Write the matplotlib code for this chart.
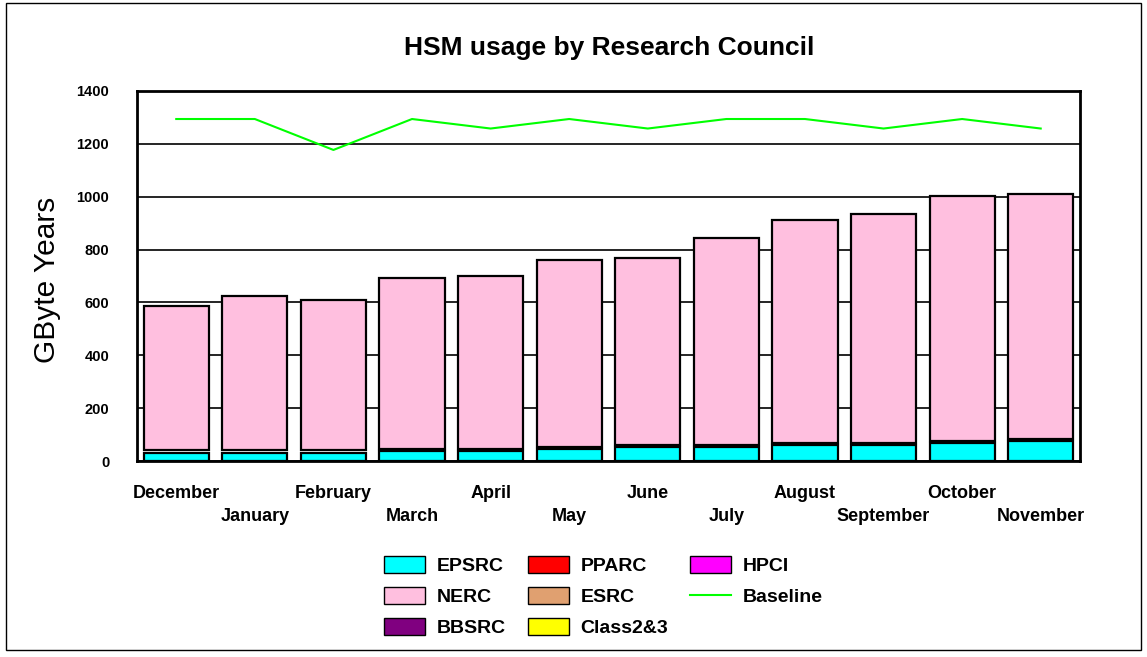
import matplotlib
matplotlib.use('Agg')
import matplotlib.pyplot as plt
from matplotlib.patches import Patch, Rectangle
from matplotlib.lines import Line2D
import numpy as np

plt.rcParams['font.family'] = ['Liberation Sans', 'DejaVu Sans']

months = ['December', 'January', 'February', 'March', 'April', 'May',
          'June', 'July', 'August', 'September', 'October', 'November']
epsrc = [32, 32, 32, 38, 38, 45, 53, 53, 60, 60, 68, 76]
totals = [586, 624, 609, 692, 700, 760, 768, 844, 912, 935, 1003, 1010]
gap = [8] * 12
nerc = [t - e - g for t, e, g in zip(totals, epsrc, gap)]
baseline = [1294, 1294, 1177, 1294, 1258, 1294, 1258, 1294, 1294, 1258, 1294, 1258]

colors = {'EPSRC': '#00FFFF', 'NERC': '#FFBFDF', 'BBSRC': '#800080',
          'PPARC': '#FF0000', 'ESRC': '#E0A070', 'Class2&3': '#FFFF00',
          'HPCI': '#FF00FF', 'Baseline': '#00FF00'}

fig = plt.figure(figsize=(11.47, 6.57), dpi=100)
ax = fig.add_axes([0.1194, 0.2983, 0.8222, 0.5632])

x = np.arange(len(months))
w = 0.83
ax.bar(x, epsrc, w, color=colors['EPSRC'], edgecolor='black', linewidth=1.6, zorder=3)
ax.bar(x, nerc, w, bottom=np.array(epsrc) + np.array(gap), color=colors['NERC'],
       edgecolor='black', linewidth=1.6, zorder=3)
ax.plot(x, baseline, color=colors['Baseline'], linewidth=1.5, zorder=4)

ax.set_xlim(-0.5, 11.5)
ax.set_ylim(0, 1400)
ax.set_yticks(range(0, 1401, 200))
ax.set_yticklabels([str(v) for v in range(0, 1401, 200)], fontsize=10.5, fontweight='bold')
ax.yaxis.grid(True, color='black', linewidth=1.2, zorder=0)
ax.set_axisbelow(True)
ax.tick_params(length=0, pad=20)
ax.set_xticks(x)
ax.set_xticklabels([])
for i, m in enumerate(months):
    yoff = -0.0865 if i % 2 == 0 else -0.151
    ax.text(i, yoff, m, transform=ax.get_xaxis_transform(), ha='center', va='center',
            fontsize=13, fontweight='bold')
for s in ax.spines.values():
    s.set_linewidth(2)
    s.set_color('black')

ax.set_ylabel('GByte Years', fontsize=21.5)
ax.yaxis.set_label_coords(-0.081, 0.49)
fig.text(0.531, 0.927, 'HSM usage by Research Council', ha='center', va='center',
         fontsize=19, fontweight='bold')

order = ['EPSRC', 'NERC', 'BBSRC', 'PPARC', 'ESRC', 'Class2&3', 'HPCI']
handles = [Patch(facecolor=colors[k], edgecolor='black', linewidth=1) for k in order]
handles.append(Line2D([0], [0], color=colors['Baseline'], linewidth=1.5))
fig.legend(handles, order + ['Baseline'], ncol=3, loc='center', bbox_to_anchor=(0.526, 0.092),
           frameon=False, prop={'weight': 'bold', 'size': 14}, handlelength=2.1,
           handleheight=0.95, columnspacing=1.15, labelspacing=0.6, handletextpad=0.6)

fig.patches.append(Rectangle((0.005, 0.01), 0.99, 0.985, transform=fig.transFigure,
                             fill=False, edgecolor='black', linewidth=1))

fig.savefig('out.png', dpi=100)
